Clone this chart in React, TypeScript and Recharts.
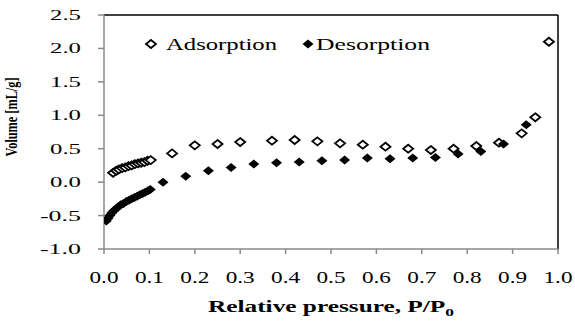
import { ScatterChart, Scatter, XAxis, YAxis, ReferenceLine } from 'recharts';

// relative pressure (P/P0) and volume (mL/g)
const adsorptionP = [
  0.02, 0.027, 0.033, 0.04, 0.047, 0.054, 0.061, 0.068, 0.075, 0.082, 0.089, 0.096, 0.103,
  0.15, 0.2, 0.25, 0.3, 0.37, 0.42, 0.47, 0.52, 0.57, 0.62, 0.67, 0.72, 0.77, 0.82, 0.87,
  0.92, 0.95, 0.98,
];
const adsorptionV = [
  0.14, 0.17, 0.19, 0.21, 0.22, 0.24, 0.25, 0.27, 0.28, 0.29, 0.3, 0.32, 0.33,
  0.43, 0.55, 0.57, 0.6, 0.62, 0.63, 0.61, 0.58, 0.56, 0.53, 0.5, 0.48, 0.5, 0.54, 0.59,
  0.73, 0.97, 2.1,
];
const desorptionP = [
  0.005, 0.009, 0.013, 0.017, 0.021, 0.026, 0.031, 0.037, 0.043, 0.049, 0.055, 0.061, 0.067,
  0.073, 0.079, 0.085, 0.091, 0.097, 0.102, 0.13, 0.18, 0.23, 0.28, 0.33, 0.38, 0.43, 0.48,
  0.53, 0.58, 0.63, 0.68, 0.73, 0.78, 0.83, 0.88, 0.93,
];
const desorptionV = [
  -0.58, -0.54, -0.5, -0.46, -0.43, -0.4, -0.37, -0.34, -0.32, -0.29, -0.27, -0.25, -0.23,
  -0.21, -0.19, -0.17, -0.15, -0.13, -0.11, 0.0, 0.09, 0.17, 0.22, 0.27, 0.29, 0.3, 0.32,
  0.33, 0.36, 0.35, 0.36, 0.37, 0.42, 0.46, 0.57, 0.86,
];
const xTicks = [0, 0.1, 0.2, 0.3, 0.4, 0.5, 0.6, 0.7, 0.8, 0.9, 1.0];
const yTicks = [-1, -0.5, 0, 0.5, 1, 1.5, 2, 2.5];

const adsorption = adsorptionP.map((p, i) => ({ p, v: adsorptionV[i] }));
const desorption = desorptionP.map((p, i) => ({ p, v: desorptionV[i] }));

// the original figure's text is stretched sideways, so lengths are forced
const serif = { fontFamily: 'Liberation Serif, serif' };

const diamond = (cx: number, cy: number, w: number, h: number) =>
  `${cx},${cy - h} ${cx + w},${cy} ${cx},${cy + h} ${cx - w},${cy}`;

const OpenDiamond = (props: any) => (
  <polygon points={diamond(props.cx, props.cy, 5, 4)} fill="#fff" stroke="#000" strokeWidth={1.8} />
);
const FilledDiamond = (props: any) => (
  <polygon points={diamond(props.cx, props.cy, 5.5, 4.5)} fill="#000" />
);

const XTick = ({ x, payload }: any) => (
  <text x={x} y={283} textAnchor="middle" style={serif} fontSize={16} fill="#000"
    textLength={29} lengthAdjust="spacingAndGlyphs">
    {Number(payload.value).toFixed(1)}
  </text>
);

const YTick = ({ y, payload }: any) => {
  const s = Number(payload.value).toFixed(1);
  return (
    <text x={81} y={y + 5} textAnchor="end" style={serif} fontSize={15} fill="#000"
      textLength={s.length * 10 + 1} lengthAdjust="spacingAndGlyphs">
      {s}
    </text>
  );
};

const XTitle = () => (
  <text x={331} y={312} textAnchor="middle" style={serif} fontWeight="bold" fontSize={16} fill="#000"
    textLength={246} lengthAdjust="spacingAndGlyphs">
    Relative pressure, P/P<tspan fontSize={11} dy={4}>0</tspan>
  </text>
);

const YTitle = () => (
  <text x={0} y={0} transform="translate(17,117) rotate(-90)" textAnchor="middle" style={serif}
    fontWeight="bold" fontSize={17} fill="#000" textLength={79} lengthAdjust="spacingAndGlyphs">
    Volume [mL/g]
  </text>
);

function LegendBox() {
  return (
    <svg width={575} height={60} style={{ position: 'absolute', left: 0, top: 0, pointerEvents: 'none' }}>
      <polygon points={diamond(151, 44, 5, 4)} fill="#fff" stroke="#000" strokeWidth={1.8} />
      <text x={166} y={50} style={serif} fontSize={17} fill="#000" textLength={111} lengthAdjust="spacingAndGlyphs">
        Adsorption
      </text>
      <polygon points={diamond(308, 44, 5.5, 4.5)} fill="#000" />
      <text x={316} y={50} style={serif} fontSize={17} fill="#000" textLength={114} lengthAdjust="spacingAndGlyphs">
        Desorption
      </text>
    </svg>
  );
}

export default function App() {
  return (
    <div style={{ position: 'absolute', left: 0, top: 0, width: 575, height: 324, background: '#fff' }}>
      <ScatterChart width={575} height={324} margin={{ top: 15, right: 17, bottom: 0, left: 0 }}>
        <XAxis
          type="number"
          dataKey="p"
          domain={[0, 1]}
          ticks={xTicks}
          height={75}
          tickSize={5}
          tickMargin={2}
          stroke="#8a8a8a"
          strokeWidth={1.5}
          tick={<XTick />}
          label={<XTitle />}
          allowDataOverflow
        />
        <YAxis
          type="number"
          dataKey="v"
          domain={[-1, 2.5]}
          ticks={yTicks}
          width={104}
          tickSize={6}
          tickMargin={2}
          stroke="#8a8a8a"
          strokeWidth={1.5}
          tick={<YTick />}
          label={<YTitle />}
          allowDataOverflow
        />
        <ReferenceLine y={2.5} stroke="#000" strokeWidth={1.5} />
        <ReferenceLine x={1} stroke="#000" strokeWidth={1.5} />
        <Scatter name="Adsorption" data={adsorption} shape={<OpenDiamond />} isAnimationActive={false} />
        <Scatter name="Desorption" data={desorption} shape={<FilledDiamond />} isAnimationActive={false} />
      </ScatterChart>
      <LegendBox />
    </div>
  );
}
